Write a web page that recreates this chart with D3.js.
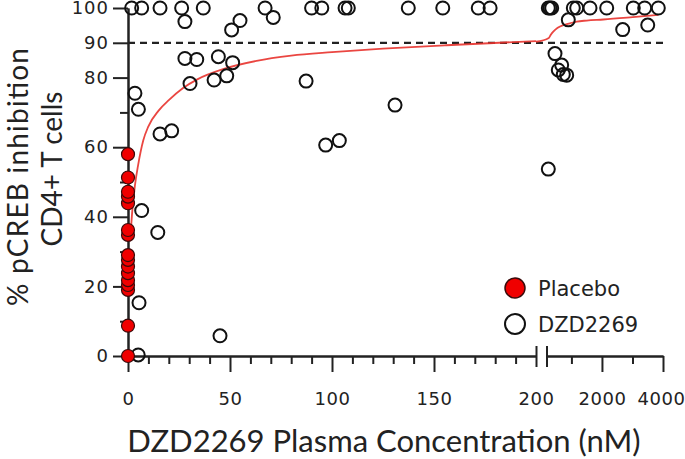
<!DOCTYPE html>
<html>
<head>
<meta charset="utf-8">
<script src="https://cdn.jsdelivr.net/npm/d3@7"></script>
<style>
  body { margin: 0; background: #fff; }
  svg { display: block; }
  .tick text { font-family: "DejaVu Sans", sans-serif; font-size: 18px; fill: #222; letter-spacing: 1px; }
  .xaxis .tick text { letter-spacing: 0.5px; }
  .axis path, .axis line { stroke: #222; stroke-width: 2; }
</style>
</head>
<body>
<svg id="chart" width="685" height="459"></svg>
<script>
// placebo subjects, all at 0 nM
const placeboConc = [0, 0, 0, 0, 0, 0, 0, 0, 0, 0, 0, 0, 0, 0, 0, 0];
const placeboInhib = [0, 8.7, 19, 20.4, 21.8, 23.8, 25.7, 27.6, 29, 34.8, 36.2, 43.9, 45.8, 47.2, 51.3, 58];

// DZD2269 subjects (nM, % inhibition)
const drugConc = [
  1.8, 6.7, 15.7, 26.3, 36.9, 67.2, 90, 95, 106.4, 108, 137.4, 154.3, 171.7, 177.5,
  243, 298, 354, 1062, 1173, 1609, 2156, 3027, 3400, 3846,
  27.9, 50.8, 54.9, 71.2, 898, 2680, 3500,
  27.9, 33.7, 44.3, 51.3, 30.4, 42.2, 48.4, 87.3,
  462, 681, 570, 734, 845,
  3.4, 5.1, 15.7, 21.4, 130.9, 96.9, 103.6, 6.7, 14.6, 5.4, 5, 45.1, 243
];
const drugInhib = [
  100, 100, 100, 100, 100, 100, 100, 100, 100, 100, 100, 100, 100, 100,
  100, 100, 100, 100, 100, 100, 100, 100, 100, 100,
  96.1, 93.7, 96.4, 97.3, 96.6, 93.8, 95.1,
  85.5, 85.2, 86, 84.3, 78.3, 79.3, 80.5, 79,
  86.9, 83.6, 82.2, 80.9, 80.7,
  75.5, 70.9, 63.8, 64.7, 72.1, 60.6, 61.9, 41.8, 35.5, 15.3, 0.3, 5.8, 53.7
];

// fitted curve, one list per axis segment
const fitConcLow = [1, 2, 3.4, 5, 7.5, 10, 15, 20, 27, 34, 47, 63, 80, 100, 125, 156, 200];
const fitInhibLow = [33, 41, 49, 55, 62, 66, 70.5, 73.5, 77, 79.5, 82.5, 84.8, 86.3, 87.3, 88.3, 89.3, 90.5];
const fitConcHigh = [200, 260, 330, 406, 550, 734, 950, 1173, 1500, 2045, 2919, 3846];
const fitInhibHigh = [90.3, 91.4, 92.4, 93.2, 94.3, 95.1, 95.6, 96.1, 96.4, 96.7, 97.3, 98];

const yMajor = [0, 20, 40, 60, 80, 90, 100];
const yMinor = [10, 30, 50, 70];
const xLowMajor = [0, 50, 100, 150, 200];
const xLowMinor = d3.range(10, 200, 10).filter(v => v % 50 !== 0);
const xHighMajor = [2000, 4000];
const xHighMinor = [1000, 3000];
const target = 90;

const svg = d3.select('#chart');

// broken x axis: 0-200 linear, then 200-4000 linear
const xLow = d3.scaleLinear().domain([0, 200]).range([128, 536]);
const xHigh = d3.scaleLinear().domain([200, 4000]).range([547, 663]);
const xPos = c => c <= 200 ? xLow(c) : xHigh(c);
const y = d3.scaleLinear().domain([0, 100]).range([356, 8]);
const y0 = y(0);

// y axis
svg.append('g').attr('class', 'axis').attr('transform', 'translate(128,0)')
    .call(d3.axisLeft(y).tickValues(yMinor).tickSize(8).tickSizeOuter(0).tickFormat(''));
svg.append('g').attr('class', 'axis').attr('transform', 'translate(128,0)')
    .call(d3.axisLeft(y).tickValues(yMajor).tickSize(15).tickSizeOuter(0).tickPadding(4));

// x axis, low segment
svg.append('g').attr('class', 'axis xaxis').attr('transform', `translate(0,${y0})`)
    .call(d3.axisBottom(xLow).tickValues(xLowMinor).tickSize(8).tickSizeOuter(0).tickFormat(''));
let lowAxis = svg.append('g').attr('class', 'axis xaxis').attr('transform', `translate(0,${y0})`)
    .call(d3.axisBottom(xLow).tickValues(xLowMajor).tickSize(16).tickSizeOuter(0).tickPadding(20));
// the 200 tick is the break mark
lowAxis.selectAll('.tick').filter(d => d === 200).select('line').attr('y1', -10).attr('y2', 11);

// x axis, high segment
svg.append('g').attr('class', 'axis xaxis').attr('transform', `translate(0,${y0})`)
    .call(d3.axisBottom(xHigh).tickValues(xHighMinor).tickSize(8).tickSizeOuter(0).tickFormat(''));
let highAxis = svg.append('g').attr('class', 'axis xaxis').attr('transform', `translate(0,${y0})`)
    .call(d3.axisBottom(xHigh).tickValues(xHighMajor).tickSize(16).tickSizeOuter(0).tickPadding(20)
        .tickFormat(d3.format('d')));
// keep the last label inside the frame
highAxis.selectAll('.tick').filter(d => d === 4000).select('text').attr('dx', -2);
svg.append('line').attr('class', 'axis')
    .attr('x1', xHigh(200)).attr('x2', xHigh(200)).attr('y1', y0 - 10).attr('y2', y0 + 11)
    .attr('stroke', '#222').attr('stroke-width', 2);

// 90% reference
svg.append('line')
    .attr('x1', xLow(0)).attr('x2', xHigh(4000)).attr('y1', y(target)).attr('y2', y(target))
    .attr('stroke', '#222').attr('stroke-width', 2.2).attr('stroke-dasharray', '7,5');

// fit curve
let line = d3.line().x(d => xPos(d[0])).y(d => y(d[1])).curve(d3.curveMonotoneX);
[[fitConcLow, fitInhibLow], [fitConcHigh, fitInhibHigh]].forEach(([cs, es]) => {
    svg.append('path')
        .attr('d', line(cs.map((c, i) => [c, es[i]])))
        .attr('fill', 'none').attr('stroke', '#e8322c').attr('stroke-width', 1.8)
        .attr('stroke-opacity', 0.9);
});

// points
svg.append('g').selectAll('circle').data(drugConc).join('circle')
    .attr('cx', d => xPos(d)).attr('cy', (d, i) => y(drugInhib[i])).attr('r', 6.5)
    .attr('fill', 'none').attr('stroke', '#111').attr('stroke-width', 2);
svg.append('g').selectAll('circle').data(placeboConc).join('circle')
    .attr('cx', d => xPos(d)).attr('cy', (d, i) => y(placeboInhib[i])).attr('r', 6.5)
    .attr('fill', '#f00000').attr('stroke', '#3a0a0a').attr('stroke-width', 1.2);

// legend
const legend = svg.append('g').attr('font-family', '"DejaVu Sans", sans-serif').attr('font-size', 21).attr('fill', '#222');
legend.append('circle').attr('cx', 515).attr('cy', 288).attr('r', 10)
    .attr('fill', '#f00000').attr('stroke', '#3a0a0a').attr('stroke-width', 1.5);
legend.append('text').attr('x', 538).attr('y', 296).text('Placebo');
legend.append('circle').attr('cx', 515).attr('cy', 324).attr('r', 10)
    .attr('fill', 'none').attr('stroke', '#111').attr('stroke-width', 2);
legend.append('text').attr('x', 538).attr('y', 332).text('DZD2269');

// axis titles
svg.append('text').attr('x', 384).attr('y', 452).attr('text-anchor', 'middle')
    .attr('font-family', 'Lato, sans-serif').attr('font-size', 31).attr('fill', '#222')
    .text('DZD2269 Plasma Concentration (nM)');
const yTitle = svg.append('g').attr('transform', 'rotate(-90)')
    .attr('font-family', 'Lato, sans-serif').attr('font-size', 28).attr('fill', '#222')
    .attr('text-anchor', 'middle');
yTitle.append('text').attr('x', -177).attr('y', 28)
    .attr('textLength', 258).attr('lengthAdjust', 'spacing').text('% pCREB inhibition');
yTitle.append('text').attr('x', -169).attr('y', 62).text('CD4+ T cells');
</script>
</body>
</html>
